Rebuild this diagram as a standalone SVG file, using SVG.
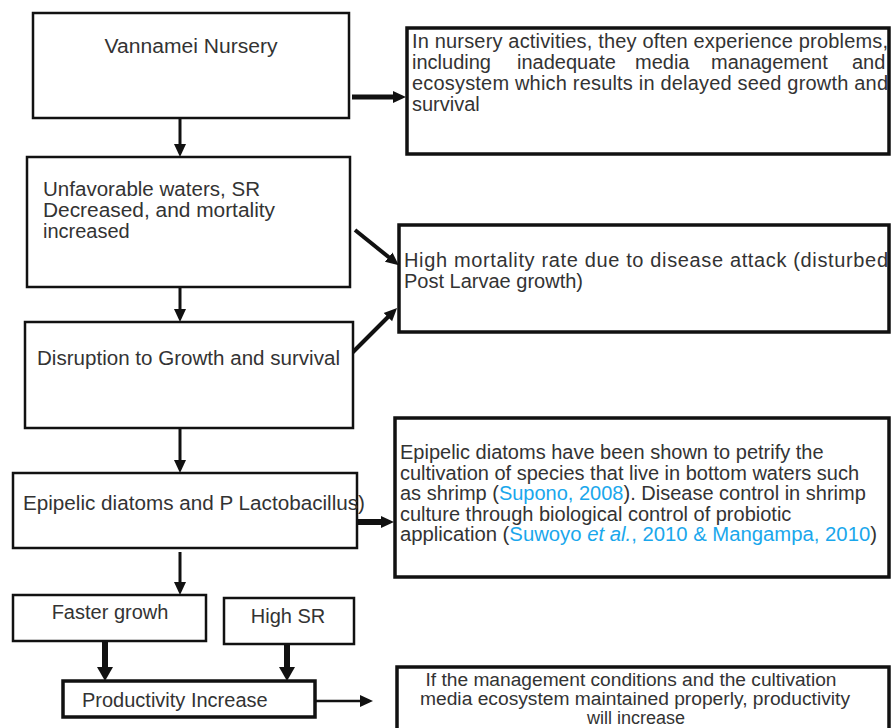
<svg xmlns="http://www.w3.org/2000/svg" width="892" height="728" viewBox="0 0 892 728">
<style>
  .box { fill: #fff; stroke: #111; stroke-width: 2.5; }
  .rbox { fill: #fff; stroke: #111; stroke-width: 3.5; }
  .t { font-family: "Liberation Sans", Arial, sans-serif; font-size: 20px; fill: #333; }
  .s { font-size: 18px; }
  .c { text-anchor: middle; }
  .ref { fill: #1aa7ec; }
  .ln { stroke: #111; fill: none; }
</style>
<defs>
  <marker id="ah" markerUnits="userSpaceOnUse" markerWidth="14" markerHeight="14" viewBox="0 0 14 14" refX="3" refY="7" orient="auto">
    <path d="M0,1 L13,7 L0,13 Z" fill="#111"/>
  </marker>
  <marker id="ahb" markerUnits="userSpaceOnUse" markerWidth="16" markerHeight="18" viewBox="0 0 16 18" refX="3" refY="9" orient="auto">
    <path d="M0,1 L14,9 L0,17 Z" fill="#111"/>
  </marker>
</defs>

<g id="connectors">
  <line class="ln" x1="180" y1="118" x2="180" y2="147" stroke-width="3" marker-end="url(#ah)"/>
  <line class="ln" x1="352" y1="97" x2="396" y2="97" stroke-width="5" marker-end="url(#ah)"/>
  <line class="ln" x1="355" y1="230" x2="391" y2="259" stroke-width="4" marker-end="url(#ah)"/>
  <line class="ln" x1="180" y1="276" x2="180" y2="312" stroke-width="3" marker-end="url(#ah)"/>
  <line class="ln" x1="352" y1="353" x2="390" y2="315" stroke-width="4" marker-end="url(#ah)"/>
  <line class="ln" x1="180" y1="425" x2="180" y2="463" stroke-width="3" marker-end="url(#ah)"/>
  <line class="ln" x1="357" y1="522" x2="384" y2="522" stroke-width="6" marker-end="url(#ah)"/>
  <line class="ln" x1="180" y1="552" x2="180" y2="585" stroke-width="3" marker-end="url(#ah)"/>
  <line class="ln" x1="105" y1="641" x2="105" y2="670" stroke-width="6" marker-end="url(#ahb)"/>
  <line class="ln" x1="287" y1="644" x2="287" y2="670" stroke-width="6" marker-end="url(#ahb)"/>
  <line class="ln" x1="315" y1="701" x2="363" y2="701" stroke-width="2.5" marker-end="url(#ah)"/>
</g>

<g id="vannamei-nursery">
  <rect class="box" x="33" y="13" width="316" height="105"/>
  <text class="t c" x="191" y="53" textLength="173" lengthAdjust="spacingAndGlyphs">Vannamei Nursery</text>
</g>

<g id="unfavorable-waters">
  <rect class="box" x="27" y="157" width="323" height="130"/>
  <text class="t" x="43" y="196" textLength="217" lengthAdjust="spacingAndGlyphs">Unfavorable waters, SR</text>
  <text class="t" x="43" y="217" textLength="232" lengthAdjust="spacingAndGlyphs">Decreased, and mortality</text>
  <text class="t" x="43" y="238">increased</text>
</g>

<g id="disruption">
  <rect class="box" x="25" y="322" width="328" height="106"/>
  <text class="t" x="37" y="365" textLength="303" lengthAdjust="spacingAndGlyphs">Disruption to Growth and survival</text>
</g>

<g id="epipelic">
  <rect class="box" x="13" y="473" width="344" height="75"/>
  <text class="t" x="23" y="510" textLength="342" lengthAdjust="spacingAndGlyphs">Epipelic diatoms and P Lactobacillus)</text>
</g>

<g id="faster-growth">
  <rect class="box" x="13" y="595" width="193" height="46"/>
  <text class="t c" x="110" y="619">Faster growh</text>
</g>

<g id="high-sr">
  <rect class="box" x="224" y="598" width="130" height="46"/>
  <text class="t c" x="288" y="623">High SR</text>
</g>

<g id="productivity">
  <rect class="rbox" x="63" y="681" width="252" height="36"/>
  <text class="t" x="82" y="707">Productivity Increase</text>
</g>

<g id="nursery-problems">
  <rect class="rbox" x="407" y="28" width="482" height="126"/>
  <text class="t" x="412" y="48" textLength="476" lengthAdjust="spacing">In nursery activities, they often experience problems,</text>
  <text class="t" y="69"><tspan x="412">including</tspan><tspan x="517">inadequate</tspan><tspan x="635">media</tspan><tspan x="711">management</tspan><tspan x="852">and</tspan></text>
  <text class="t" x="412" y="90" textLength="476" lengthAdjust="spacing">ecosystem which results in delayed seed growth and</text>
  <text class="t" x="412" y="111">survival</text>
</g>

<g id="high-mortality">
  <rect class="rbox" x="399" y="225" width="490" height="107"/>
  <text class="t" x="404" y="267" textLength="484" lengthAdjust="spacing">High mortality rate due to disease attack (disturbed</text>
  <text class="t" x="404" y="288">Post Larvae growth)</text>
</g>

<g id="epipelic-evidence">
  <rect class="rbox" x="395" y="418" width="494" height="159"/>
  <text class="t" x="400" y="459">Epipelic diatoms have been shown to petrify the</text>
  <text class="t" x="400" y="480">cultivation of species that live in bottom waters such</text>
  <text class="t" x="400" y="500">as shrimp (<tspan class="ref">Supono, 2008</tspan>). Disease control in shrimp</text>
  <text class="t" x="400" y="521">culture through biological control of probiotic</text>
  <text class="t" x="400" y="541" textLength="477" lengthAdjust="spacingAndGlyphs">application (<tspan class="ref">Suwoyo </tspan><tspan class="ref" font-style="italic">et al.</tspan><tspan class="ref">, 2010 &amp; Mangampa, 2010</tspan>)</text>
</g>

<g id="management-conditions">
  <rect class="rbox" x="397" y="667" width="492" height="75"/>
  <text class="t s c" x="631" y="686" textLength="411" lengthAdjust="spacingAndGlyphs">If the management conditions and the cultivation</text>
  <text class="t s c" x="635" y="705" textLength="430" lengthAdjust="spacingAndGlyphs">media ecosystem maintained properly, productivity</text>
  <text class="t s c" x="636" y="724">will increase</text>
</g>
</svg>
